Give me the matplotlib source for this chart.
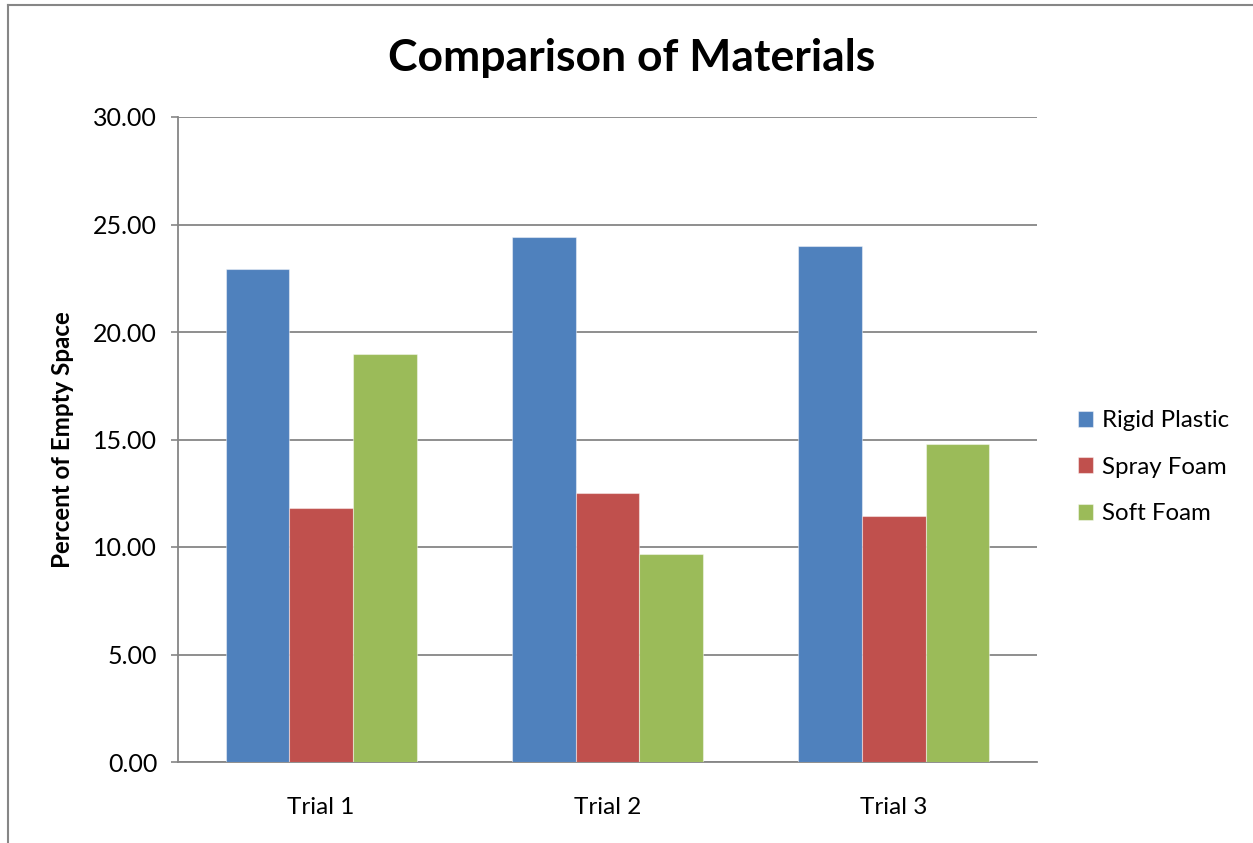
import numpy as np
import matplotlib.pyplot as plt
from matplotlib.lines import Line2D

# data
trials = ["Trial 1", "Trial 2", "Trial 3"]
materials = ["Rigid Plastic", "Spray Foam", "Soft Foam"]
rigid_plastic = [22.91, 24.44, 23.98]
spray_foam = [11.81, 12.53, 11.46]
soft_foam = [18.96, 9.66, 14.78]
yticks = [0, 5, 10, 15, 20, 25, 30]

colors = ["#4F81BD", "#C0504D", "#9BBB59"]
grid_col = "#868686"

plt.rcParams['font.family'] = ['Lato', 'DejaVu Sans']

fig = plt.figure(figsize=(12.53, 8.43), dpi=100)
ax = fig.add_axes([178/1253, 81/843, (1037-178)/1253, (762-117)/843])

x = np.arange(len(trials))
width = 0.222
series = [rigid_plastic, spray_foam, soft_foam]
for i, (vals, name) in enumerate(zip(series, materials)):
    ax.bar(x + (i - 1) * width, vals, width, color=colors[i], label=name,
           edgecolor=(1, 1, 1, 0.45), linewidth=0.8, zorder=3)

ax.set_xlim(-0.5, 2.5)
ax.set_ylim(0, 30)
ax.set_yticks(yticks)
ax.set_yticklabels(["{:.2f}".format(v) for v in yticks], fontsize=18)
ax.set_xticks(x)
ax.set_xticklabels(trials, fontsize=17.5)
ax.tick_params(axis='x', length=0, pad=25)
ax.tick_params(axis='y', length=5, width=1.2, color=grid_col, pad=10)
ax.grid(axis='y', color=grid_col, linewidth=1.3, zorder=0)

for s in ['top', 'right']:
    ax.spines[s].set_visible(False)
for s in ['left', 'bottom']:
    ax.spines[s].set_color(grid_col)
    ax.spines[s].set_linewidth(1.3)

ax.set_ylabel("Percent of Empty Space", fontsize=17.4, fontweight='bold', labelpad=14)
fig.text(632/1253, 1 - 58/843, "Comparison of Materials", fontsize=32,
         fontweight='bold', ha='center', va='center')

ax.legend(loc='center left', bbox_to_anchor=(1.022, 0.457), frameon=False,
          fontsize=17.3, handlelength=0.65, handleheight=0.65, handletextpad=0.35,
          labelspacing=1.07)

# chart border (partially visible)
fig.lines.append(Line2D([8/1253, 8/1253], [0, 1 - 5/843], transform=fig.transFigure,
                        color=grid_col, linewidth=1.5))
fig.lines.append(Line2D([8/1253, 1], [1 - 5/843, 1 - 5/843], transform=fig.transFigure,
                        color=grid_col, linewidth=1.5))

fig.savefig("out.png", dpi=100, facecolor='white')
